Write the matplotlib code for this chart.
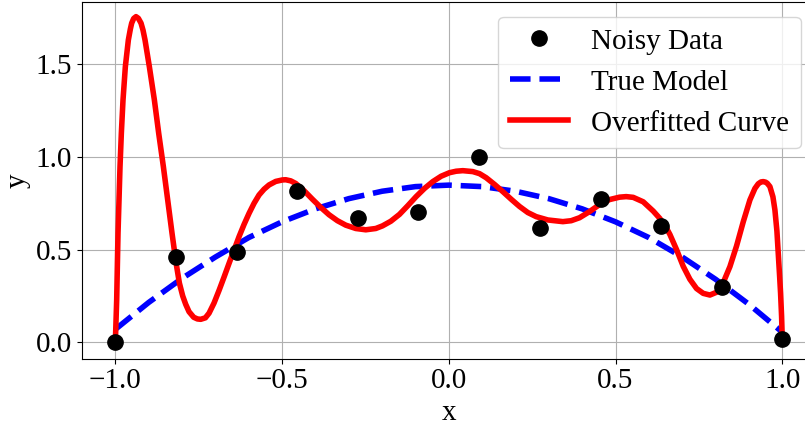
import matplotlib
matplotlib.use('Agg')
import matplotlib.pyplot as plt

plt.rcParams['font.family'] = ['Liberation Serif', 'DejaVu Serif']
plt.rcParams['mathtext.fontset'] = 'stix'

# noisy samples
data_x = [-1.0, -0.818, -0.636, -0.455, -0.273, -0.091, 0.091, 0.273, 0.455, 0.636, 0.818, 1.0]
data_y = [0.0, 0.462, 0.486, 0.818, 0.669, 0.705, 0.998, 0.618, 0.773, 0.628, 0.300, 0.02]

# true model
true_x = [-1.0, -0.9, -0.8, -0.7, -0.6, -0.5, -0.4, -0.3, -0.2, -0.1, 0.0,
          0.1, 0.2, 0.3, 0.4, 0.5, 0.6, 0.7, 0.8, 0.9, 1.0]
true_y = [0.07, 0.215, 0.345, 0.46, 0.565, 0.65, 0.72, 0.775, 0.815, 0.84, 0.848,
          0.84, 0.815, 0.775, 0.72, 0.65, 0.565, 0.46, 0.34, 0.205, 0.055]

# overfitted curve
fit_x = [-1.0, -0.996, -0.994, -0.992, -0.989, -0.986, -0.982, -0.977, -0.970, -0.961,
         -0.955, -0.951, -0.945, -0.938, -0.931, -0.923, -0.917, -0.911, -0.898, -0.883,
         -0.870, -0.856, -0.843, -0.830, -0.818, -0.808, -0.798, -0.789, -0.779, -0.765,
         -0.754, -0.744, -0.730, -0.719, -0.704, -0.689, -0.674, -0.659, -0.644, -0.629,
         -0.614, -0.599, -0.584, -0.569, -0.554, -0.539, -0.519, -0.499, -0.489, -0.474,
         -0.459, -0.434, -0.409, -0.384, -0.359, -0.334, -0.309, -0.279, -0.249, -0.219,
         -0.199, -0.174, -0.148, -0.123, -0.098, -0.073, -0.048, -0.023, 0.002, 0.022,
         0.042, 0.072, 0.092, 0.112, 0.137, 0.162, 0.187, 0.212, 0.237, 0.262,
         0.297, 0.342, 0.367, 0.392, 0.422, 0.452, 0.482, 0.512, 0.532, 0.553,
         0.583, 0.613, 0.633, 0.653, 0.663, 0.683, 0.703, 0.723, 0.743, 0.763,
         0.783, 0.803, 0.823, 0.843, 0.863, 0.883, 0.903, 0.918, 0.928, 0.936,
         0.943, 0.950, 0.955, 0.963, 0.972, 0.978, 0.984, 0.988, 0.992, 0.995,
         0.998, 1.0]
fit_y = [0.0, 0.228, 0.408, 0.588, 0.768, 0.948, 1.128, 1.308, 1.487, 1.631,
         1.690, 1.722, 1.747, 1.757, 1.748, 1.722, 1.684, 1.631, 1.487, 1.308,
         1.128, 0.948, 0.768, 0.588, 0.43, 0.32, 0.25, 0.205, 0.165, 0.135,
         0.126, 0.124, 0.132, 0.157, 0.212, 0.280, 0.352, 0.426, 0.498, 0.570,
         0.636, 0.696, 0.750, 0.795, 0.826, 0.849, 0.868, 0.876, 0.877, 0.871,
         0.857, 0.818, 0.772, 0.728, 0.688, 0.656, 0.632, 0.614, 0.607, 0.614,
         0.628, 0.653, 0.690, 0.737, 0.786, 0.830, 0.867, 0.896, 0.915, 0.923,
         0.926, 0.921, 0.910, 0.888, 0.852, 0.813, 0.772, 0.733, 0.700, 0.678,
         0.660, 0.651, 0.656, 0.672, 0.705, 0.743, 0.770, 0.783, 0.786, 0.782,
         0.758, 0.708, 0.668, 0.615, 0.582, 0.500, 0.410, 0.340, 0.290, 0.264,
         0.255, 0.270, 0.322, 0.408, 0.520, 0.650, 0.768, 0.830, 0.855, 0.865,
         0.867, 0.864, 0.858, 0.840, 0.785, 0.714, 0.600, 0.480, 0.360, 0.264,
         0.140, 0.02]

fig = plt.figure(figsize=(8.05, 4.26), dpi=100)
ax = fig.add_axes([82 / 805, (426 - 358.7) / 426, (815.6 - 82) / 805, (358.7 - 2) / 426])

ax.plot(data_x, data_y, 'o', color='black', markersize=11, label='Noisy Data', zorder=3)
ax.plot(true_x, true_y, '--', color='blue', linewidth=4, label='True Model')
ax.plot(fit_x, fit_y, '-', color='red', linewidth=4, label='Overfitted Curve')

ax.set_xlim(-1.1, 1.1)
ax.set_ylim(-0.0885, 1.836)
ax.set_xticks([-1.0, -0.5, 0.0, 0.5, 1.0])
ax.set_yticks([0.0, 0.5, 1.0, 1.5])
ax.tick_params(labelsize=21)
ax.set_xlabel('x', fontsize=21)
ax.set_ylabel('y', fontsize=21)
ax.grid(True)
ax.legend(loc='upper right', fontsize=21)

fig.savefig('out.png', dpi=100)
